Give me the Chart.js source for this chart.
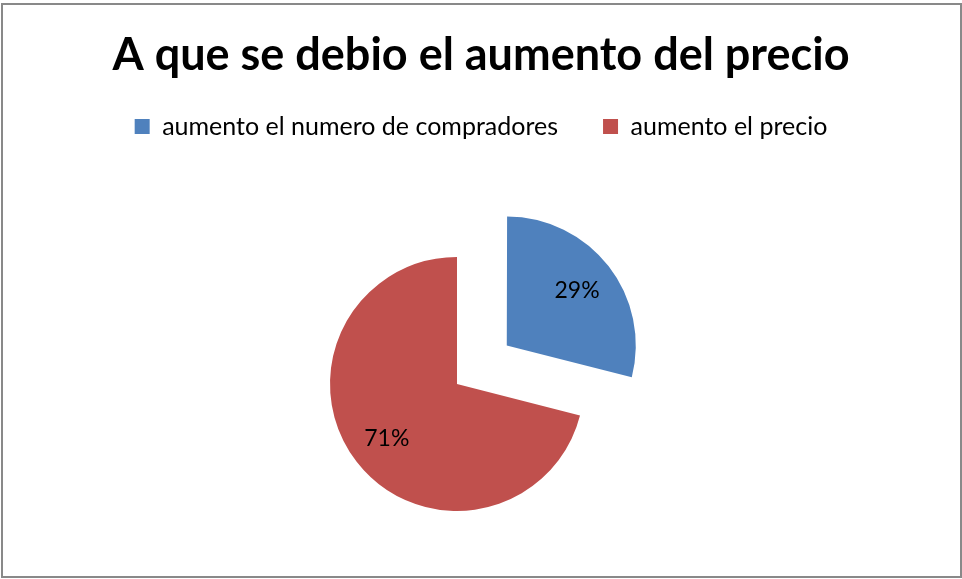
<!DOCTYPE html>
<html lang="es">
<head>
  <meta charset="UTF-8">
  <title>A que se debio el aumento del precio</title>
  <style>
    html, body { margin: 0; padding: 0; background: #fff; }
    .chartBox {
      position: relative;
      width: 962px;
      height: 579px;
    }
    .frame {
      position: absolute;
      left: 1px; top: 3px;
      width: 957px; height: 571px;
      border: 2px solid #898989;
      pointer-events: none;
    }
  </style>
</head>
<body>
  <div class="chartBox">
    <canvas id="pieChart" width="962" height="579"></canvas>
    <div class="frame"></div>
  </div>

  <script src="https://cdn.jsdelivr.net/npm/chart.js"></script>
  <script>
    const categories = ['aumento el numero de compradores', 'aumento el precio'];
    const shares = [29, 71];
    const sliceColors = ['#4F81BD', '#C0504D'];
    // Chart.js v4 moves an arc by offset / 4, so 252 -> ~63px
    const explode = [252, 0];

    // empty layout boxes, used to push the pie below the legend and left of centre
    function spacer(position, size) {
      return {
        position: position,
        weight: 0,
        fullSize: false,
        options: {},
        isHorizontal() { return position === 'top' || position === 'bottom'; },
        update(maxWidth, maxHeight) {
          if (this.isHorizontal()) { this.width = maxWidth; this.height = size; }
          else { this.width = size; this.height = maxHeight; }
        },
        draw() {}
      };
    }
    const pieSpacing = {
      id: 'pieSpacing',
      beforeInit(chart) {
        Chart.layouts.addBox(chart, spacer('top', 40));
        Chart.layouts.addBox(chart, spacer('right', 48));
      }
    };

    // percentage labels drawn inside each slice
    const sliceLabels = {
      id: 'sliceLabels',
      afterDatasetsDraw(chart) {
        const ctx = chart.ctx;
        const meta = chart.getDatasetMeta(0);
        const total = shares.reduce((a, b) => a + b, 0);
        ctx.save();
        ctx.font = '23px Lato';
        ctx.fillStyle = '#000';
        ctx.textAlign = 'center';
        ctx.textBaseline = 'middle';
        meta.data.forEach((arc, i) => {
          const p = arc.getProps(['x', 'y', 'startAngle', 'endAngle', 'outerRadius']);
          const mid = (p.startAngle + p.endAngle) / 2;
          const r = arc.options.offset / 4 + p.outerRadius * 0.7;
          const txt = Math.round(shares[i] / total * 100) + '%';
          ctx.fillText(txt, p.x + Math.cos(mid) * r, p.y + Math.sin(mid) * r);
        });
        ctx.restore();
      }
    };

    new Chart(document.getElementById('pieChart'), {
      type: 'pie',
      data: {
        labels: categories,
        datasets: [{
          data: shares,
          backgroundColor: sliceColors,
          borderWidth: 0,
          offset: explode
        }]
      },
      options: {
        responsive: false,
        animation: false,
        radius: 127,
        layout: { padding: 0 },
        plugins: {
          title: {
            display: true,
            text: 'A que se debio el aumento del precio',
            color: '#000',
            font: { family: 'Lato', size: 45, weight: 'bold', lineHeight: 1.2 },
            padding: { top: 28, bottom: -13 }
          },
          legend: {
            position: 'top',
            labels: {
              color: '#000',
              font: { family: 'Lato', size: 25 },
              boxWidth: 15,
              boxHeight: 15,
              padding: 45
            }
          },
          tooltip: { enabled: false }
        }
      },
      plugins: [pieSpacing, sliceLabels]
    });
  </script>
</body>
</html>
